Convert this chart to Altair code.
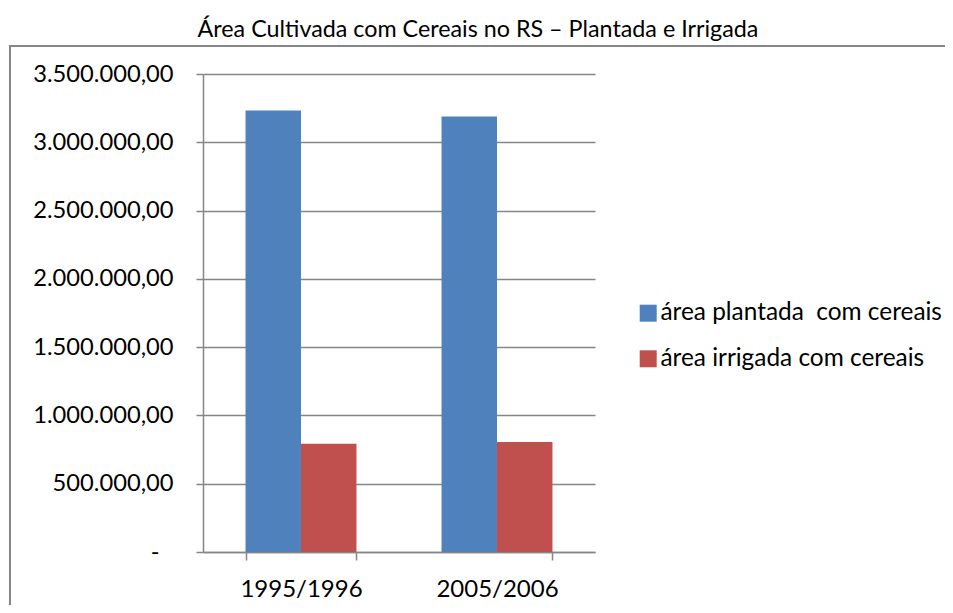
import altair as alt
import pandas as pd

periods = ["1995/1996", "2005/2006"]
series = ["área plantada\u00a0 com cereais", "área irrigada com cereais"]
plantada = [3233000, 3189000]
irrigada = [792000, 806000]
y_ticks = [0, 500000, 1000000, 1500000, 2000000, 2500000, 3000000, 3500000]
colors = ["#4F81BD", "#C0504D"]
title_text = "Área Cultivada com Cereais no RS – Plantada e Irrigada"

rows = []
for i, p in enumerate(periods):
    rows.append({"periodo": p, "serie": series[0], "valor": plantada[i]})
    rows.append({"periodo": p, "serie": series[1], "valor": irrigada[i]})
df = pd.DataFrame(rows)

GRAY = "#868686"
FONT = "Lato"

bars = alt.Chart(df).mark_bar().encode(
    x=alt.X(
        "periodo:N",
        sort=periods,
        scale=alt.Scale(paddingInner=0.434, paddingOuter=0.217),
        axis=alt.Axis(
            title=None, labelAngle=0, tickBand="extent", tickSize=8,
            tickColor=GRAY, tickWidth=1.5, domainColor=GRAY, domainWidth=1.5,
            labelFont=FONT, labelFontSize=24, labelColor="#000", labelPadding=17,
            grid=False,
        ),
    ),
    xOffset=alt.XOffset("serie:N", sort=series,
                        scale=alt.Scale(paddingInner=0, paddingOuter=0)),
    y=alt.Y(
        "valor:Q",
        scale=alt.Scale(domain=[0, 3500000], nice=False),
        axis=alt.Axis(
            title=None, values=y_ticks, format=",.2f",
            labelExpr="datum.value == 0 ? '-' : datum.label",
            tickSize=7, tickColor=GRAY, tickWidth=1.5,
            domainColor=GRAY, domainWidth=1.5,
            gridColor=GRAY, gridWidth=1.5,
            labelFont=FONT, labelFontSize=23.7, labelColor="#000",
            labelPadding={"condition": {"test": "datum.value == 0", "value": 37},
                          "value": 23},
        ),
    ),
    color=alt.Color(
        "serie:N",
        sort=series,
        scale=alt.Scale(domain=series, range=colors),
        legend=alt.Legend(
            title=None, orient="none", legendX=433, legendY=227,
            symbolType="square", symbolSize=289, symbolStrokeWidth=0,
            symbolOpacity=1, labelFont=FONT, labelFontSize=24.4,
            labelColor="#000", rowPadding=20.6, labelOffset=0,
            labelLimit=400,
        ),
    ),
)

border = alt.Chart(pd.DataFrame({"a": [0]})).mark_rect(
    fillOpacity=0, stroke=GRAY, strokeWidth=2
).encode(
    x=alt.value(-193), x2=alt.value(900),
    y=alt.value(-28), y2=alt.value(700),
)

chart = alt.layer(border, bars).properties(
    width=392,
    height=478,
    autosize="none",
    padding={"left": 195, "top": 66, "right": 350, "bottom": 53},
    title=alt.Title(
        title_text, font=FONT, fontSize=23.3, fontWeight="normal",
        color="#000", anchor="middle", dx=79, offset=3,
    ),
).configure(
    locale={"number": {"decimal": ",", "thousands": ".", "grouping": [3],
                       "currency": ["R$", ""]}},
    view={"strokeWidth": 0},
)

chart.save("out.html", embed_options={"renderer": "svg", "actions": False})
